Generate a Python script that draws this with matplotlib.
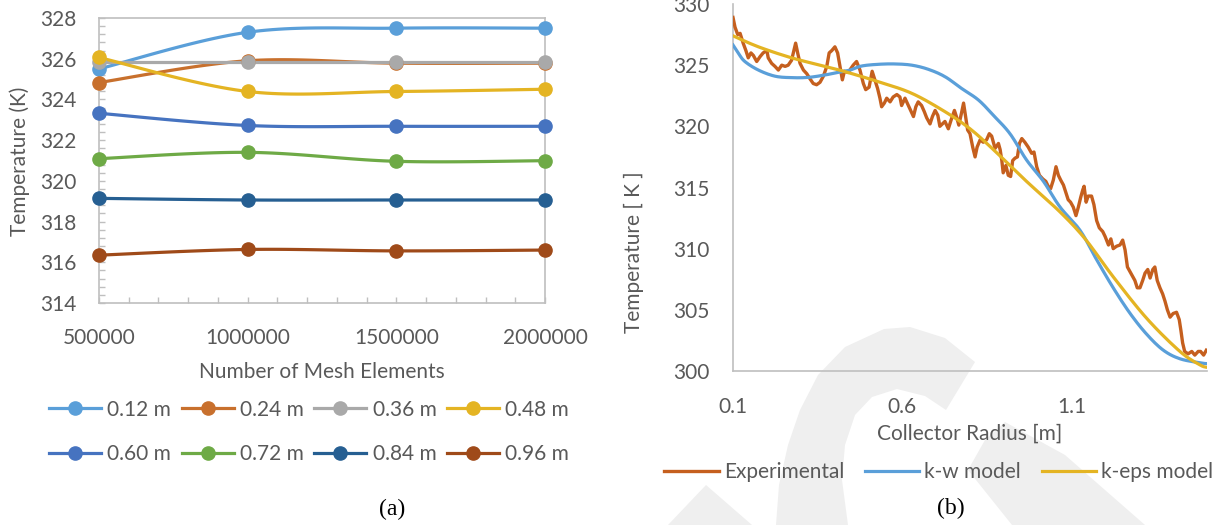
import numpy as np
import matplotlib
matplotlib.use("Agg")
import matplotlib.pyplot as plt
from matplotlib.patches import Polygon
from matplotlib.ticker import MultipleLocator

# ---------------- data ----------------
mesh_elements = [500000, 1000000, 1500000, 2000000]
series_labels = ["0.12 m", "0.24 m", "0.36 m", "0.48 m",
                 "0.60 m", "0.72 m", "0.84 m", "0.96 m"]
t_012 = [325.50, 327.30, 327.50, 327.50]
t_024 = [324.83, 325.90, 325.78, 325.78]
t_036 = [325.83, 325.83, 325.83, 325.83]
t_048 = [326.06, 324.39, 324.39, 324.50]
t_060 = [323.32, 322.72, 322.68, 322.68]
t_072 = [321.09, 321.40, 320.96, 320.99]
t_084 = [319.14, 319.06, 319.06, 319.06]
t_096 = [316.35, 316.63, 316.56, 316.60]
series_colors = ["#5A9FD9", "#C8702D", "#A9A9A9", "#E4B423",
                 "#4673C0", "#6EAA46", "#265F92", "#9F4A19"]

exp_r = [0.100, 0.106, 0.114, 0.121, 0.130, 0.138, 0.145, 0.153, 0.160, 0.170,
         0.180, 0.189, 0.200, 0.204, 0.214, 0.224, 0.234, 0.244, 0.254, 0.263,
         0.273, 0.280, 0.285, 0.291, 0.298, 0.308, 0.318, 0.327, 0.337, 0.347,
         0.357, 0.367, 0.377, 0.384, 0.392, 0.401, 0.409, 0.416, 0.423, 0.429,
         0.440, 0.455, 0.465, 0.475, 0.485, 0.492, 0.502, 0.511, 0.519, 0.527,
         0.534, 0.539, 0.547, 0.554, 0.564, 0.573, 0.584, 0.593, 0.598, 0.608,
         0.618, 0.626, 0.633, 0.640, 0.647, 0.657, 0.665, 0.672, 0.682, 0.689,
         0.697, 0.705, 0.711, 0.726, 0.736, 0.744, 0.754, 0.761, 0.767, 0.775,
         0.781, 0.787, 0.793, 0.800, 0.808, 0.815, 0.821, 0.830, 0.839, 0.849,
         0.857, 0.864, 0.874, 0.884, 0.889, 0.894, 0.898, 0.906, 0.913, 0.920,
         0.926, 0.933, 0.940, 0.946, 0.953, 0.962, 0.972, 0.982, 0.989, 0.997,
         1.005, 1.015, 1.024, 1.031, 1.038, 1.046, 1.054, 1.061, 1.068, 1.076,
         1.084, 1.090, 1.097, 1.105, 1.113, 1.120, 1.127, 1.133, 1.137, 1.143,
         1.149, 1.159, 1.166, 1.174, 1.182, 1.192, 1.199, 1.209, 1.216, 1.223,
         1.233, 1.243, 1.251, 1.258, 1.265, 1.273, 1.281, 1.287, 1.294, 1.302,
         1.310, 1.317, 1.325, 1.332, 1.340, 1.346, 1.353, 1.361, 1.369, 1.376,
         1.383, 1.391, 1.400, 1.410, 1.418, 1.423, 1.428, 1.434, 1.444, 1.455,
         1.464, 1.474, 1.481, 1.490, 1.498]
exp_t = [328.9, 328.1, 327.5, 327.6, 326.8, 326.2, 325.6, 326.0, 325.8, 325.3,
         325.7, 326.0, 326.2, 325.6, 325.15, 324.9, 324.6, 325.0, 324.9, 325.0,
         325.4, 326.2, 326.8, 326.0, 325.15, 324.6, 324.3, 323.9, 323.5, 323.4,
         323.6, 324.1, 324.9, 326.0, 326.2, 326.5, 326.0, 324.9, 323.8, 324.5,
         324.4, 325.0, 325.3, 324.6, 323.5, 323.0, 323.2, 324.5, 323.8, 323.1,
         322.3, 321.6, 321.9, 322.3, 322.0, 322.4, 322.6, 322.4, 321.7, 322.3,
         321.7, 321.2, 320.8, 321.6, 322.0, 321.7, 321.2, 320.7, 320.2, 320.8,
         321.3, 320.9, 320.0, 320.4, 319.8, 320.5, 321.3, 320.7, 320.1, 321.1,
         321.9, 320.8, 319.7, 319.4, 318.3, 317.5, 318.3, 318.9, 318.7, 318.9,
         319.4, 319.2, 318.2, 318.6, 318.1, 317.2, 316.2, 316.8, 316.0, 315.9,
         317.2, 317.4, 317.5, 318.6, 319.0, 318.7, 318.3, 317.8, 317.9, 316.7,
         316.0, 315.7, 315.5, 315.1, 314.9, 315.6, 316.7, 316.0, 315.6, 315.2,
         314.5, 314.0, 313.8, 313.4, 312.7, 313.4, 314.2, 314.8, 315.1, 313.8,
         314.3, 314.3, 313.6, 312.3, 311.7, 311.4, 311.0, 310.3, 310.8, 310.0,
         310.2, 310.3, 310.7, 309.9, 308.5, 308.1, 307.7, 307.4, 306.8, 306.8,
         307.4, 308.0, 308.3, 307.6, 308.3, 308.5, 307.4, 306.8, 306.3, 305.7,
         305.0, 304.4, 304.7, 304.8, 304.2, 303.3, 302.3, 301.6, 301.4, 301.6,
         301.3, 301.6, 301.6, 301.3, 301.7]

kw_r = [0.100, 0.116, 0.135, 0.175, 0.224, 0.273, 0.322, 0.372, 0.421, 0.446,
        0.480, 0.529, 0.578, 0.628, 0.677, 0.726, 0.775, 0.825, 0.869, 0.918,
        0.967, 1.017, 1.066, 1.125, 1.174, 1.223, 1.273, 1.322, 1.371, 1.420,
        1.479, 1.500]
kw_t = [326.65, 325.97, 325.30, 324.60, 324.10, 323.98, 324.00, 324.20, 324.47, 324.60,
        324.93, 325.07, 325.10, 325.00, 324.66, 324.06, 323.10, 322.15, 320.90, 319.40,
        317.25, 315.50, 313.40, 311.50, 309.10, 306.80, 304.70, 303.00, 301.70, 301.00,
        300.67, 300.60]

keps_r = [0.100, 0.175, 0.273, 0.372, 0.431, 0.529, 0.628, 0.726, 0.800, 0.869,
          0.967, 1.066, 1.140, 1.223, 1.322, 1.420, 1.479, 1.500]
keps_t = [327.40, 326.50, 325.60, 324.90, 324.47, 323.65, 322.70, 321.20, 319.80, 318.10,
          315.50, 313.00, 310.80, 307.70, 304.30, 301.60, 300.50, 300.30]

# ---------------- helpers ----------------
W, H = 1231, 525
TXT = "#595959"
AX = "#BFBFBF"
FONT = "Lato"
FS = 15


def smooth(x, y, n=24):
    """Cardinal (Catmull-Rom) spline through the given points, as in smoothed chart lines."""
    p = np.column_stack([np.asarray(x, float), np.asarray(y, float)])
    # normalise so the parametrisation is not dominated by the x units
    sx = np.ptp(p[:, 0]) or 1.0
    sy = np.ptp(p[:, 1]) or 1.0
    q = p / [sx, sy]
    ext = np.vstack([q[0], q, q[-1]])
    out = []
    for i in range(1, len(ext) - 2):
        p0, p1, p2, p3 = ext[i - 1], ext[i], ext[i + 1], ext[i + 2]
        c1 = p1 + (p2 - p0) / 6.0
        c2 = p2 - (p3 - p1) / 6.0
        t = np.linspace(0, 1, n, endpoint=(i == len(ext) - 3))[:, None]
        b = ((1 - t) ** 3) * p1 + 3 * ((1 - t) ** 2) * t * c1 + 3 * (1 - t) * t ** 2 * c2 + t ** 3 * p2
        out.append(b)
    out = np.vstack(out) * [sx, sy]
    return out[:, 0], out[:, 1]


def fx(px):
    return px / W


def fy(py):
    return 1 - py / H


plt.rcParams["font.family"] = [FONT, "DejaVu Sans"]
fig = plt.figure(figsize=(W / 100, H / 100), dpi=100, facecolor="white")

# light watermark shapes behind the charts
wm = "#EFEFEF"
c_shape = [(776, 525), (779, 485), (788, 445), (800, 410), (818, 375), (845, 347),
           (884, 329), (910, 327), (945, 338), (975, 362), (946, 410), (925, 396),
           (897, 389), (872, 397), (855, 415), (845, 445), (842, 480), (848, 525)]
band = [(968, 470), (1012, 525), (1145, 525), (1065, 455), (1005, 422), (985, 440)]
tri = [(668, 525), (706, 485), (752, 525)]
for shp in (c_shape, band, tri):
    fig.patches.append(Polygon([(fx(a), fy(b)) for a, b in shp], closed=True,
                               transform=fig.transFigure, facecolor=wm,
                               edgecolor="none", zorder=-5))

# ---------------- panel (a) ----------------
ax1 = fig.add_axes([fx(99), fy(303), fx(545) - fx(99), fy(18) - fy(303)])
ax1.patch.set_alpha(0)
all_series = [t_012, t_024, t_036, t_048, t_060, t_072, t_084, t_096]
handles = []
for vals, col, lab in zip(all_series, series_colors, series_labels):
    sx_, sy_ = smooth(mesh_elements, vals)
    ax1.plot(sx_, sy_, color=col, lw=2.3, solid_capstyle="round", zorder=3)
    ax1.plot(mesh_elements, vals, ls="none", marker="o", ms=9.5, color=col,
             zorder=4, clip_on=False)
    h, = ax1.plot([], [], color=col, lw=2.3, marker="o", ms=9.5, label=lab)
    handles.append(h)

ax1.set_xlim(500000, 2000000)
ax1.set_ylim(314, 328)
ax1.set_xticks(mesh_elements)
ax1.set_xticklabels([str(v) for v in mesh_elements])
ax1.set_yticks(np.arange(314, 329, 2))
ax1.xaxis.set_minor_locator(MultipleLocator(100000))
ax1.yaxis.set_minor_locator(MultipleLocator(0.4))
ax1.tick_params(axis="both", which="both", direction="in", length=4, width=1,
                color=AX, labelsize=FS, labelcolor=TXT, top=False, right=False)
ax1.tick_params(axis="y", which="major", pad=16)
ax1.tick_params(axis="x", which="major", pad=18)
for s in ax1.spines.values():
    s.set_color(AX)
    s.set_linewidth(1.2)

fig.text(fx(20), fy(161), "Temperature (K)", rotation=90, ha="center", va="center",
         fontsize=FS, color=TXT)
fig.text(fx(322), fy(372), "Number of Mesh Elements", ha="center", va="center",
         fontsize=FS, color=TXT)

# legend entries laid out row by row (4 per row)
order = [0, 4, 1, 5, 2, 6, 3, 7]
fig.legend(handles=[handles[i] for i in order], loc="center",
           bbox_to_anchor=(fx(309), fy(432)),
           ncol=4, frameon=False, fontsize=FS, labelcolor=TXT, handlelength=2.5,
           handletextpad=0.3, columnspacing=0.5, labelspacing=1.2,
           borderpad=0, borderaxespad=0)

fig.text(fx(392), fy(509), "(a)", ha="center", va="center", fontsize=17,
         color="black", family=["Liberation Serif", "DejaVu Serif"])

# ---------------- panel (b) ----------------
ax2 = fig.add_axes([fx(733), fy(371), fx(1207) - fx(733), fy(4) - fy(371)])
ax2.patch.set_alpha(0)
l_exp, = ax2.plot(exp_r, exp_t, color="#C55F1E", lw=2.4, label="Experimental", zorder=3)
kx, ky = smooth(kw_r, kw_t, n=12)
l_kw, = ax2.plot(kx, ky, color="#5A9FD9", lw=2.3, label="k-w model", zorder=4)
ex, ey = smooth(keps_r, keps_t, n=12)
l_ke, = ax2.plot(ex, ey, color="#E4B423", lw=2.3, label="k-eps model", zorder=5)

ax2.set_xlim(0.1, 1.5)
ax2.set_ylim(300, 330)
ax2.set_xticks([0.1, 0.6, 1.1])
ax2.set_xticklabels(["0.1", "0.6", "1.1"])
ax2.set_yticks(np.arange(300, 331, 5))
ax2.tick_params(axis="both", length=0, labelsize=FS, labelcolor=TXT)
ax2.tick_params(axis="y", pad=17)
ax2.tick_params(axis="x", pad=19)
for side in ("top", "right"):
    ax2.spines[side].set_visible(False)
for side in ("left", "bottom"):
    ax2.spines[side].set_color(AX)
    ax2.spines[side].set_linewidth(1.2)

fig.text(fx(634), fy(252), "Temperature [ K ]", rotation=90, ha="center", va="center",
         fontsize=FS, color=TXT)
fig.text(fx(970), fy(434), "Collector Radius [m]", ha="center", va="center",
         fontsize=FS, color=TXT)

fig.legend(handles=[l_exp, l_kw, l_ke], loc="center", bbox_to_anchor=(fx(939), fy(472)),
           ncol=3, frameon=False, fontsize=FS, labelcolor=TXT, handlelength=2.6,
           handletextpad=0.25, columnspacing=1.0, borderpad=0, borderaxespad=0)

fig.text(fx(951), fy(508), "(b)", ha="center", va="center", fontsize=17,
         color="black", family=["Liberation Serif", "DejaVu Serif"])

fig.savefig("out.png", dpi=100, facecolor="white")
